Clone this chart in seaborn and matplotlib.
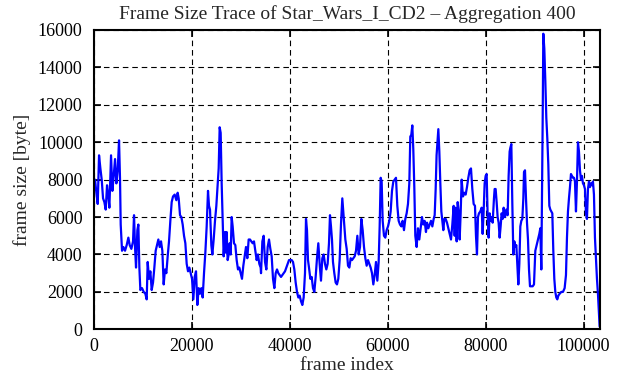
import matplotlib
matplotlib.use("Agg")
import matplotlib.pyplot as plt
import seaborn as sns
import pandas as pd

sns.set_theme(style="ticks", context="paper")
plt.rcParams["font.family"] = ["Liberation Serif", "DejaVu Serif"]

# trace (frame index, aggregated frame size in byte)
frame_index = [
    0, 272, 544, 816, 1088, 1360, 1632, 1904, 2176, 2448, 2720, 2992, 3196, 3536,
    3808, 4080, 4352, 4624, 4896, 5168, 5372, 5508, 5780, 6052, 6392, 6732, 7072,
    7344, 7684, 8024, 8228, 8432, 8636, 8908, 9112, 9316, 9520, 9860, 10200, 10540,
    10812, 11016, 11288, 11560, 11832, 12104, 12376, 12648, 12920, 13192, 13464,
    13736, 14008, 14280, 14552, 14824, 15096, 15368, 15640, 15912, 16184, 16524,
    16864, 17136,
    17344, 17616, 17888, 18160, 18432, 18704, 18976, 19248, 19520, 19792, 20064,
    20336, 20608, 20880, 21152, 21424, 21696, 21968, 22240, 22512, 22784, 23056,
    23328, 23532, 23736, 24008, 24212, 24484, 24756, 25028, 25300, 25504, 25708,
    25912, 26116, 26320, 26524, 26796, 26932, 27136, 27340, 27544, 27748, 27952,
    28156, 28360, 28632, 28904, 29176, 29448, 29720, 29992, 30264, 30536, 30808,
    31080, 31352, 31624, 31896, 32168, 32440, 32712, 32984, 33256, 33528, 33800,
    34072,
    34148, 34420, 34692, 34964, 35236, 35508, 35780, 36052, 36324, 36596, 36868,
    37140, 37412, 37684, 37956, 38228, 38500, 38772, 39044, 39316, 39588, 39860,
    40132, 40404, 40676, 40948, 41220, 41492, 41764, 42036, 42308, 42580, 42852,
    43124, 43328, 43532, 43736, 43940, 44212, 44484, 44756, 45028, 45300, 45572,
    45844, 46116, 46388, 46660, 46932, 47204, 47476, 47748, 48020, 48224, 48428,
    48632, 48836, 49108, 49380, 49652, 49924, 50196, 50468, 50740, 51012,
    51088, 51360, 51632, 51904, 52176, 52448, 52720, 52992, 53264, 53536, 53808,
    54080, 54352, 54624, 54896, 55168, 55440, 55712, 55984, 56256, 56528, 56800,
    57072, 57344, 57616, 57888, 58160, 58364, 58568, 58772, 58976, 59248, 59520,
    59792, 60064, 60336, 60608, 60880, 61152, 61424, 61696, 61968, 62240, 62512,
    62784, 63056, 63328, 63600, 63872, 64144, 64416, 64620, 64824, 65028, 65232,
    65436, 65640, 65912, 66184, 66456, 66728, 67000, 67272, 67544, 67816,
    68028, 68300, 68572, 68844, 69116, 69388, 69592, 69796, 69980, 70204, 70340,
    70544, 70748, 70952, 71156, 71360, 71564, 71836, 72108, 72380, 72652, 72924,
    73196, 73468, 73672, 73876, 74080, 74284, 74488, 74692, 74896, 75100, 75372,
    75644, 75916, 76188, 76460, 76732, 77004, 77276, 77548, 77820, 78024, 78228,
    78432, 78636, 78908, 79180, 79384, 79588, 79792, 79996, 80200, 80404, 80608,
    80812, 81016, 81220, 81424, 81696, 81832, 82036, 82240, 82444, 82648, 82852,
    83056, 83260, 83464, 83668, 83940, 84212, 84484, 84688, 84892,
    85036, 85240, 85444, 85648, 85852, 86056, 86260, 86464, 86668, 86872, 87076,
    87280, 87484, 87688, 87824, 88028, 88232, 88436, 88640, 88844, 89048, 89320,
    89592, 89864, 90136, 90408, 90680, 90952, 91156, 91360, 91496, 91632, 91768,
    91972, 92176, 92380, 92584, 92788, 92992, 93196, 93400, 93604, 93808, 94012,
    94216, 94420, 94624, 94828, 95100, 95440, 95780, 96120, 96392, 96596, 96800,
    97004, 97208, 97412, 97616, 97820, 98024, 98228, 98432, 98636, 98840, 99044,
    99248, 99452, 99656, 99860, 100064, 100268, 100472, 100676, 100880, 101084,
    101288, 101492, 101696, 101900, 102104, 102308, 102512, 102716, 102920, 103124,
    103260,
]

frame_size = [
    7300, 8000, 7300, 6700, 9300, 8600, 8000, 7000, 6800, 6400, 7700, 7100, 6500, 9300,
    7400, 8200, 9100, 7800, 8500, 10100, 8000, 5600, 4200, 4400, 4200, 4500, 4900,
    4500, 4300, 4700, 6100, 4400, 3300, 5300, 5600, 3300, 2100, 2200, 2000, 1900,
    1600, 3600, 2700, 3100, 2100, 2500, 3300, 4200, 4500, 4800, 4400,
    4700, 4200, 2400, 3200, 3000, 3900, 4700, 5800, 6800, 7100, 7200,
    6900, 7300,
    7000, 6100, 6000, 5600, 5000, 4600, 3500, 3100, 3300, 3000, 2700,
    1600, 2800, 3100, 1300, 2200, 1900, 2200, 1700, 3000, 4100, 5500,
    7400, 6600, 6400, 4500, 4000, 4800, 5800, 6600, 7800, 8600, 10800,
    10500, 7800, 5900, 3900, 5200, 4100, 5200, 3700, 4000, 4600, 4000,
    6000, 5500, 4600, 4500, 3700, 3200, 3300, 3000, 2700, 3400, 3900,
    4400, 3800, 4800, 4800, 4700, 4600, 4700, 4200, 3700, 4000, 3500,
    3300,
    3000, 4700, 5000, 3600, 3200, 4400, 4800, 4300, 3900, 2700, 2200,
    3000, 3200, 3000, 2900, 2800, 2900, 3000, 3100, 3300, 3500, 3700,
    3700, 3700, 3600, 3200, 2500, 2000, 1700, 1800, 1500, 1300, 1700,
    3000, 5900, 5300, 3700, 3300, 2700, 2800, 2200, 2000, 2800, 3800,
    4600, 3500, 2600, 3800, 4000, 3500, 3200, 3500, 4600, 6100, 5500,
    4800, 3600, 3000, 2500, 2400, 2700, 3700, 5600, 7000, 6000,
    5800, 4800, 4300, 3400, 3300, 3800, 3700, 3800, 3900, 4200, 5000,
    4000, 4400, 5900, 5300, 4400, 3800, 3400, 3700, 3500, 3300, 3000,
    2400, 2900, 3600, 2600, 3600, 5500, 8100, 7900, 5800, 5000, 4900,
    5300, 5500, 5800, 6300, 7400, 7900, 8000, 8100, 6600, 5800, 5600,
    5500, 5800, 5300, 5900, 6200, 6700, 7800, 10300, 10400, 10900, 9600,
    7600, 5000, 4400, 5400, 4800, 5400, 6000, 5600, 5800, 5200,
    5700, 5400, 5600, 5800, 5500, 5900, 6100, 7500, 9300, 10200, 10700,
    9500, 7800, 6300, 5800, 5300, 5900, 5900, 5700, 5400, 5100, 4800,
    5600, 6600, 5000, 6500, 4700, 6800, 6300, 4800, 6200, 8000, 7100,
    7300, 7200, 7600, 8100, 8500, 8600, 7500, 6700, 6600, 5000, 4000,
    6000, 6200, 6300, 6500, 5100, 6300, 7800, 8200, 8300, 6100, 4900,
    6200, 5800, 6000, 5700, 7000, 7500, 7500, 6800, 6000, 5700, 4900,
    5500, 6200, 5900, 6500, 6000, 6400, 6100, 8200, 9500,
    9700, 9900, 6700, 4000, 4700, 4400, 4500, 3500, 2400, 3500, 5500,
    5800, 5900, 7000, 8400, 8500, 7000, 5700, 4800, 3200, 2300, 2300,
    2300, 2400, 4200, 4500, 4800, 5100, 5400, 3200, 7000, 11000, 15800,
    15000, 13300, 11300, 10200, 8800, 6600, 6400, 6300, 6200, 4200, 2700,
    2000, 1700, 1600, 1800, 1900, 2000, 2000, 2200, 2900, 4900, 6300,
    7000, 7600, 8300, 8200, 8100, 8100, 7900, 6300, 7900, 10000, 9500,
    8500, 8000, 8200, 7800, 7700, 7500, 6200, 5900, 7500, 7900,
    7600, 7800, 7700, 7900, 7200, 4900, 3800, 2700, 1900, 800,
    150,
]

df = pd.DataFrame({"frame index": frame_index, "frame size [byte]": frame_size})

fig = plt.figure(figsize=(6.19, 3.80), dpi=100)
ax = fig.add_axes([0.1514, 0.1334, 0.8184, 0.7877])

sns.lineplot(data=df, x="frame index", y="frame size [byte]", ax=ax,
             color="#0000ff", linewidth=1.6)

ax.set_xlim(0, 103400)
ax.set_ylim(0, 16000)
ax.set_xticks(range(0, 100001, 20000))
ax.set_yticks(range(0, 16001, 2000))
ax.grid(True, color="black", linestyle=(0, (5, 3.5)), linewidth=0.8)

ax.tick_params(direction="in", length=5, width=1.2, top=True, right=True,
               labelsize=13, colors="black")
ax.tick_params(axis="x", pad=6)
ax.tick_params(axis="y", pad=8)
for s in ax.spines.values():
    s.set_linewidth(1.5)
    s.set_color("black")

ax.set_title("Frame Size Trace of Star_Wars_I_CD2 – Aggregation 400",
             fontsize=14, pad=8)
ax.set_xlabel("frame index", fontsize=14, labelpad=2)
ax.set_ylabel("frame size [byte]", fontsize=14, labelpad=5)

fig.savefig("out.png", dpi=100)
